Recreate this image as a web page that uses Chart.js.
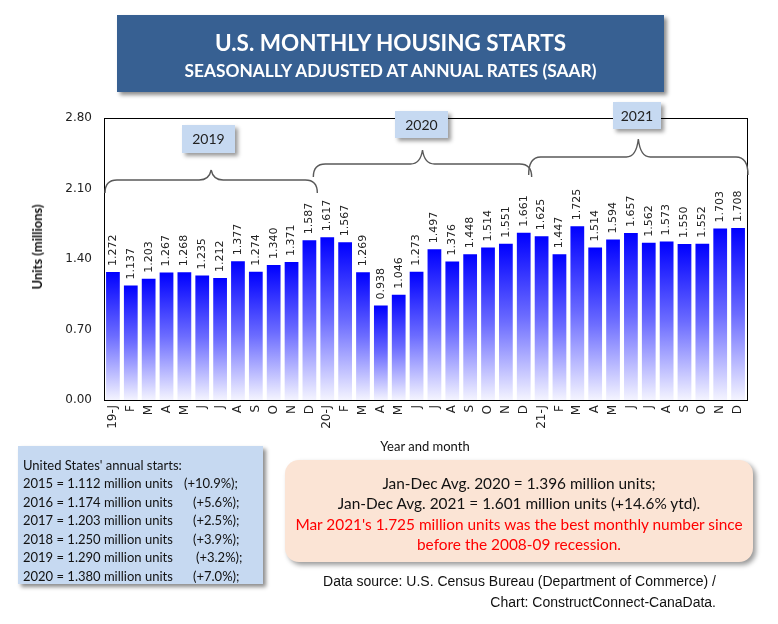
<!DOCTYPE html>
<html>
<head>
<meta charset="utf-8">
<script src="https://cdn.jsdelivr.net/npm/chart.js@4/dist/chart.umd.min.js"></script>
<style>
  html, body { margin: 0; padding: 0; background: #fff; }
  #wrap { position: relative; width: 778px; height: 624px; overflow: hidden; font-family: Lato, "Open Sans", sans-serif; }
  #c { position: absolute; left: 0; top: 0; }
  .abs { position: absolute; }
  #titlebox { left: 117px; top: 15px; width: 547px; height: 77px; background: #376092; box-shadow: 3px 3px 4px rgba(0,0,0,0.45); color: #fff; text-align: center; font-weight: bold; }
  #t1 { position: absolute; left: 0; right: 0; top: 15px; font-size: 22.5px; line-height: 26px; }
  #t2 { position: absolute; left: 0; right: 0; top: 46px; font-size: 17.3px; line-height: 20px; }
  .yearbox { background: #C6D9F1; box-shadow: 3px 3px 4px rgba(0,0,0,0.4); font-size: 14px; color: #222; text-align: center; }
  #leftbox { left: 18px; top: 446px; width: 245px; height: 138px; background: #C6D9F1; box-shadow: 3px 3px 4px rgba(0,0,0,0.45); font-size: 13px; color: #111; }
  #leftbox div { position: absolute; white-space: nowrap; line-height: 16px; }
  #rightbox { left: 285px; top: 460px; width: 468px; height: 102px; background: #FBE4D5; border-radius: 14px; box-shadow: 3px 3px 5px rgba(0,0,0,0.4); text-align: center; font-size: 15.4px; color: #111; }
  #rightbox div { position: absolute; left: 0; right: 0; line-height: 20px; white-space: nowrap; }
  .red { color: #FF0000; }
  #source { left: 250px; top: 571px; width: 466px; text-align: right; font-family: "Liberation Sans", Arial, sans-serif; font-size: 14px; line-height: 21px; color: #111; }
  #ytitle { left: 37px; top: 247px; transform: translate(-50%, -50%) rotate(-90deg); font-weight: bold; font-size: 13px; color: #111; white-space: nowrap; }
  #xtitle { left: 425px; top: 446px; transform: translate(-50%, -50%); font-size: 13px; color: #111; white-space: nowrap; }
</style>
</head>
<body>
<div id="wrap">
  <canvas id="c" width="778" height="624"></canvas>
  <div id="titlebox" class="abs">
    <div id="t1">U.S. MONTHLY HOUSING STARTS</div>
    <div id="t2">SEASONALLY ADJUSTED AT ANNUAL RATES (SAAR)</div>
  </div>
  <div class="abs yearbox" style="left:182px;top:125px;width:53px;height:28px;line-height:28px;">2019</div>
  <div class="abs yearbox" style="left:395px;top:111px;width:53px;height:27px;line-height:27px;">2020</div>
  <div class="abs yearbox" style="left:613px;top:102px;width:48px;height:27px;line-height:27px;">2021</div>
  <div id="ytitle" class="abs">Units (millions)</div>
  <div id="xtitle" class="abs">Year and month</div>
  <div id="leftbox" class="abs">
    <div style="left:5px;top:11px;">United States' annual starts:</div>
    <div style="left:5px;top:29px;">2015 = 1.112 million units</div><div style="left:166px;top:29px;">(+10.9%);</div>
    <div style="left:5px;top:48px;">2016 = 1.174 million units</div><div style="left:175px;top:48px;">(+5.6%);</div>
    <div style="left:5px;top:66px;">2017 = 1.203 million units</div><div style="left:175px;top:66px;">(+2.5%);</div>
    <div style="left:5px;top:85px;">2018 = 1.250 million units</div><div style="left:175px;top:85px;">(+3.9%);</div>
    <div style="left:5px;top:103px;">2019 = 1.290 million units</div><div style="left:178px;top:103px;">(+3.2%);</div>
    <div style="left:5px;top:122px;">2020 = 1.380 million units</div><div style="left:175px;top:122px;">(+7.0%);</div>
  </div>
  <div id="rightbox" class="abs">
    <div style="top:13px;">Jan-Dec Avg. 2020 = 1.396 million units;</div>
    <div style="top:33px;">Jan-Dec Avg. 2021 = 1.601 million units (+14.6% ytd).</div>
    <div class="red" style="top:54px;">Mar 2021's 1.725 million units was the best monthly number since</div>
    <div class="red" style="top:74px;">before the 2008-09 recession.</div>
  </div>
  <div id="source" class="abs">Data source: U.S. Census Bureau (Department of Commerce) /<br>Chart: ConstructConnect-CanaData.</div>
</div>
<script>
const monthLabels = [
  "19-J","F","M","A","M","J","J","A","S","O","N","D",
  "20-J","F","M","A","M","J","J","A","S","O","N","D",
  "21-J","F","M","A","M","J","J","A","S","O","N","D"
];
const starts2019 = [1.272, 1.137, 1.203, 1.267, 1.268, 1.235, 1.212, 1.377, 1.274, 1.340, 1.371, 1.587];
const starts2020 = [1.617, 1.567, 1.269, 0.938, 1.046, 1.273, 1.497, 1.376, 1.448, 1.514, 1.551, 1.661];
const starts2021 = [1.625, 1.447, 1.725, 1.514, 1.594, 1.657, 1.562, 1.573, 1.550, 1.552, 1.703, 1.708];
const yTicks = [0, 0.70, 1.40, 2.10, 2.80];
const yearGroups = [
  { start: 0, end: 11 },
  { start: 12, end: 23 },
  { start: 24, end: 35 }
];

const values = starts2019.concat(starts2020, starts2021);

function barGradient(ctx) {
  const chart = ctx.chart;
  const area = chart.chartArea;
  const ys = chart.scales.y;
  if (!area || !ys || ctx.type !== 'data') return '#0000FF';
  const top = ys.getPixelForValue(ctx.raw);
  const bottom = ys.getPixelForValue(0);
  const g = chart.ctx.createLinearGradient(0, top, 0, bottom);
  g.addColorStop(0, '#0000FF');
  g.addColorStop(0.5, '#6C6CFF');
  g.addColorStop(1, '#F4F4FF');
  return g;
}

const framePlugin = {
  id: 'frame',
  afterDraw(chart) {
    const { ctx, chartArea: a } = chart;
    ctx.save();
    ctx.strokeStyle = '#000';
    ctx.lineWidth = 1;
    ctx.strokeRect(Math.round(a.left) + 0.5, Math.round(a.top) + 0.5, Math.round(a.right - a.left), Math.round(a.bottom - a.top));
    ctx.restore();
  }
};

const labelPlugin = {
  id: 'barLabels',
  afterDatasetsDraw(chart) {
    const ctx = chart.ctx;
    const meta = chart.getDatasetMeta(0);
    ctx.save();
    ctx.fillStyle = '#222';
    ctx.font = '11px "DejaVu Sans", sans-serif';
    ctx.textAlign = 'left';
    ctx.textBaseline = 'middle';
    meta.data.forEach((el, i) => {
      ctx.save();
      ctx.translate(el.x, el.y - 6);
      ctx.rotate(-Math.PI / 2);
      ctx.fillText(chart.data.datasets[0].data[i].toFixed(3), 0, 0);
      ctx.restore();
    });
    ctx.restore();
  }
};

const bracePlugin = {
  id: 'braces',
  afterDraw(chart) {
    const ctx = chart.ctx;
    const xs = chart.scales.x;
    const shapes = [
      { base: 180, tip: 170, end: 193, padL: 3, padR: 3 },
      { base: 164, tip: 150, end: 177, padL: 9, padR: 3 },
      { base: 157, tip: 139, end: 175, padL: 8, padR: 5 }
    ];
    ctx.save();
    ctx.strokeStyle = '#595959';
    ctx.lineWidth = 1.4;
    yearGroups.forEach((g, k) => {
      const s = shapes[k];
      const half = xs.width / monthLabels.length / 2;
      const x1 = xs.getPixelForValue(g.start) - half + 1 - s.padL + 3;
      const x2 = xs.getPixelForValue(g.end) + half - 1 + s.padR - 3;
      const xm = (x1 + x2) / 2;
      const r = 12;
      ctx.beginPath();
      ctx.moveTo(x1, s.end);
      ctx.quadraticCurveTo(x1, s.base, x1 + r, s.base);
      ctx.lineTo(xm - r, s.base);
      ctx.quadraticCurveTo(xm - 2, s.base, xm, s.tip);
      ctx.moveTo(xm, s.tip);
      ctx.quadraticCurveTo(xm + 2, s.base, xm + r, s.base);
      ctx.lineTo(x2 - r, s.base);
      ctx.quadraticCurveTo(x2, s.base, x2, s.end);
      ctx.stroke();
    });
    ctx.restore();
  }
};

new Chart(document.getElementById('c'), {
  type: 'bar',
  data: {
    labels: monthLabels,
    datasets: [{
      data: values,
      backgroundColor: barGradient,
      borderWidth: 0,
      categoryPercentage: 1.0,
      barPercentage: 0.77
    }]
  },
  options: {
    responsive: false,
    animation: false,
    events: [],
    layout: { padding: { left: 0, right: 31, top: 118, bottom: 184 } },
    plugins: { legend: { display: false }, tooltip: { enabled: false } },
    scales: {
      x: {
        grid: { display: false, drawTicks: false },
        border: { display: false },
        ticks: {
          autoSkip: false, maxRotation: 90, minRotation: 90, padding: 5,
          color: '#222', font: { family: '"DejaVu Sans", sans-serif', size: 12 }
        },
        afterFit(scale) { scale.height = 40; }
      },
      y: {
        min: 0, max: 2.8,
        grid: { display: false, drawTicks: false },
        border: { display: false },
        afterBuildTicks(scale) { scale.ticks = yTicks.map(v => ({ value: v })); },
        ticks: {
          padding: 12, color: '#222',
          font: { family: '"DejaVu Sans", sans-serif', size: 12 },
          callback: v => Number(v).toFixed(2)
        },
        afterFit(scale) { scale.width = 104; }
      }
    }
  },
  plugins: [framePlugin, labelPlugin, bracePlugin]
});
</script>
</body>
</html>
